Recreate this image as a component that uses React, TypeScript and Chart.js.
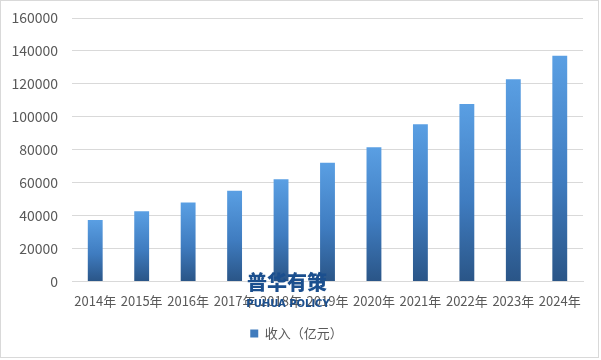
import React, { useEffect, useRef } from "react";
import { Chart, registerables } from "chart.js";

Chart.register(...registerables);

const categories = ["2014年", "2015年", "2016年", "2017年", "2018年", "2019年", "2020年", "2021年", "2022年", "2023年", "2024年"];
const revenue = [37300, 42600, 48000, 55000, 62000, 72000, 81500, 95500, 107700, 122800, 137000];
const seriesLabel = "收入（亿元）";
const yTicks = [0, 20000, 40000, 60000, 80000, 100000, 120000, 140000, 160000];
const watermarkCn = "普华有策";
const watermarkEn = "PUHUA POLICY";

const FONT = "'Microsoft YaHei', 'Noto Sans CJK SC', sans-serif";

export default function App() {
  const ref = useRef<HTMLCanvasElement | null>(null);

  useEffect(() => {
    document.body.style.margin = "0";
    const canvas = ref.current;
    if (!canvas) return;

    const borderPlugin = {
      id: "outerBorder",
      beforeDraw(chart: any) {
        const ctx = chart.ctx;
        ctx.save();
        ctx.fillStyle = "#ffffff";
        ctx.fillRect(0, 0, chart.width, chart.height);
        ctx.strokeStyle = "#d9d9d9";
        ctx.lineWidth = 1;
        ctx.strokeRect(0.5, 0.5, chart.width - 3, chart.height - 3);
        ctx.restore();
      },
    };

    const watermarkPlugin = {
      id: "watermark",
      afterDraw(chart: any) {
        const ctx = chart.ctx;
        ctx.save();
        ctx.fillStyle = "#1b4f8e";
        ctx.textAlign = "center";
        ctx.textBaseline = "middle";
        ctx.font = "900 20px 'Noto Sans CJK SC', sans-serif";
        ctx.fillText(watermarkCn, 287, 282);
        ctx.font = "bold 10px 'DejaVu Sans', sans-serif";
        ctx.fillText(watermarkEn, 288, 304);
        ctx.restore();
      },
    };

    const chart = new Chart(canvas, {
      type: "bar",
      data: {
        labels: categories,
        datasets: [
          {
            label: seriesLabel,
            data: revenue,
            categoryPercentage: 1,
            barPercentage: 0.32,
            backgroundColor: (c: any) => {
              const area = c.chart.chartArea;
              if (!area || c.type !== "data") return "#3f7bbd";
              const ys = c.chart.scales.y;
              const top = ys.getPixelForValue(c.raw);
              const bottom = ys.getPixelForValue(0);
              const g = c.chart.ctx.createLinearGradient(0, top, 0, bottom);
              g.addColorStop(0, "#5a9fe3");
              g.addColorStop(0.55, "#3f7cc0");
              g.addColorStop(1, "#2a5587");
              return g;
            },
            borderWidth: 0,
          },
        ],
      },
      options: {
        animation: false,
        responsive: false,
        maintainAspectRatio: false,
        layout: { padding: { left: 10, right: 18, top: 18, bottom: 10 } },
        plugins: {
          legend: {
            position: "bottom",
            labels: {
              boxWidth: 8,
              boxHeight: 8,
              color: "#595959",
              font: { size: 13, family: FONT },
              padding: 14,
              generateLabels: () => [
                {
                  text: seriesLabel,
                  fillStyle: "#3f7bbd",
                  strokeStyle: "#3f7bbd",
                  lineWidth: 0,
                  fontColor: "#595959",
                  datasetIndex: 0,
                  hidden: false,
                },
              ],
            },
          },
          tooltip: { enabled: false },
        },
        scales: {
          x: {
            grid: { display: false },
            border: { display: true, color: "#d9d9d9" },
            ticks: { color: "#595959", font: { size: 13, family: FONT }, maxRotation: 0, autoSkip: false, padding: 4 },
          },
          y: {
            min: 0,
            max: 160000,
            afterBuildTicks: (s: any) => {
              s.ticks = yTicks.map((v) => ({ value: v }));
            },
            afterFit: (s: any) => {
              s.width = 62;
              s.paddingTop = 0;
              s.paddingBottom = 0;
            },
            grid: { color: "#d9d9d9", drawTicks: false },
            border: { display: false },
            ticks: {
              color: "#595959",
              font: { size: 14, family: FONT },
              padding: 14,
              callback: (v: any) => String(v),
            },
          },
        },
      },
      plugins: [borderPlugin, watermarkPlugin],
    } as any);

    return () => chart.destroy();
  }, []);

  return (
    <div style={{ position: "absolute", left: 0, top: 0, width: 601, height: 360 }}>
      <canvas ref={ref} width={601} height={360} style={{ width: 601, height: 360 }} />
    </div>
  );
}
